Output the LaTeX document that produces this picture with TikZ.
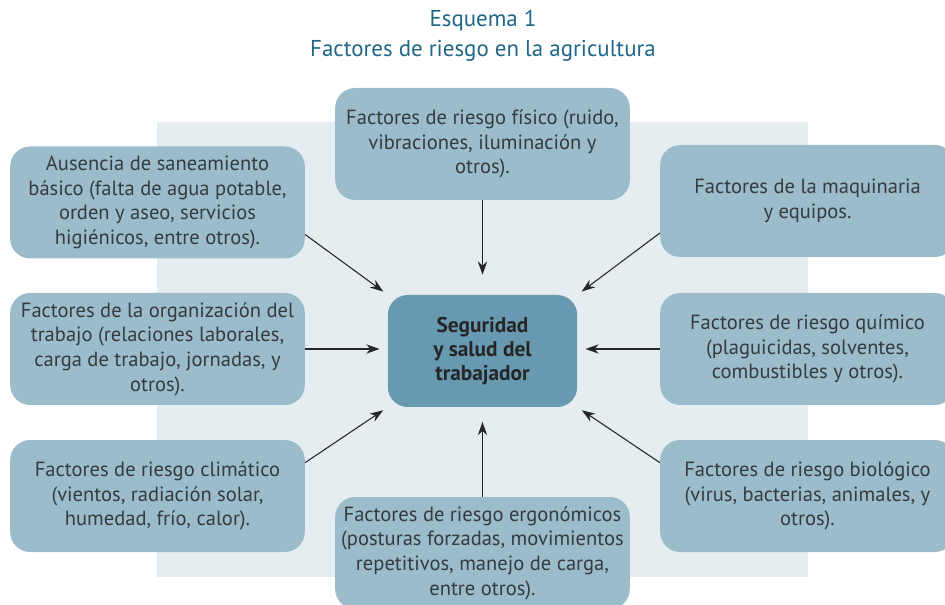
\documentclass[tikz,border=0pt]{standalone}
\usepackage{fontspec}
\setmainfont{PT Sans}
\usetikzlibrary{arrows.meta}
\usetikzlibrary{positioning}
\definecolor{cajaazul}{HTML}{9ABCCB}
\definecolor{centroazul}{HTML}{6799B1}
\definecolor{fondo}{HTML}{E6EDF0}
\definecolor{titulo}{HTML}{1F6688}
\definecolor{texto}{HTML}{363B3D}
\tikzset{caja/.style = {fill=cajaazul, rounded corners=15pt, minimum width=221pt, minimum height=84pt, inner sep=0pt, align=center, text=texto, font=\fontsize{15.4}{18.5}\selectfont}}
\tikzset{nucleo/.style = {fill=centroazul, rounded corners=15pt, minimum width=142pt, minimum height=84pt, inner sep=0pt, align=center, text=black!85, font=\fontsize{16}{18}\selectfont\bfseries}}
\tikzset{flecha/.style = {-{Stealth[length=10pt, width=7pt]}, line width=0.8pt, draw=black!85}}

\begin{document}
\begin{tikzpicture}[x=0.75pt, y=-0.75pt]
    \useasboundingbox (0, 0) rectangle (945, 605);
    \fill [fondo] (157, 122) rectangle (808, 577);

    \node [text=titulo, align=center, font=\fontsize{17.2}{22.5}\selectfont] (titulo) at (483, 36)
      {Esquema 1\\Factores de riesgo en la agricultura};

    \node [nucleo] (centro) at (482.5, 351) {Seguridad\\y salud del\\trabajador};

    \node [caja] (fisico) at (482.5, 144)
      {Factores de riesgo físico (ruido,\\vibraciones, iluminación y\\otros).};
    \node [caja] (saneamiento) at (157.5, 202.5)
      {Ausencia de saneamiento\\básico (falta de agua potable,\\orden y aseo, servicios\\higiénicos, entre otros).};
    \node [caja] (maquinaria) at (807.5, 201)
      {Factores de la maquinaria\\y equipos.};
    \node [caja] (organizacion) at (157.5, 349)
      {Factores de la organización del\\trabajo (relaciones laborales,\\carga de trabajo, jornadas, y\\otros).};
    \node [caja] (quimico) at (807.5, 349)
      {Factores de riesgo químico\\(plaguicidas, solventes,\\combustibles y otros).};
    \node [caja] (climatico) at (157.5, 496)
      {Factores de riesgo climático\\(vientos, radiación solar,\\humedad, frío, calor).};
    \node [caja] (biologico) at (807.5, 496)
      {Factores de riesgo biológico\\(virus, bacterias, animales, y\\otros).};
    \node [caja] (ergonomico) at (482.5, 553)
      {Factores de riesgo ergonómicos\\(posturas forzadas, movimientos\\repetitivos, manejo de carga,\\entre otros).};

    % flechas hacia el centro
    \draw [flecha, shorten >=15pt] (fisico) -- (centro);
    \draw [flecha, shorten >=11pt] (ergonomico) -- (centro);
    \draw [flecha, shorten >=6pt] (organizacion.east) -- (organizacion.east -| centro.west);
    \draw [flecha, shorten >=6pt] (quimico.west) -- (quimico.west -| centro.east);
    \draw [flecha, shorten >=4pt] ([yshift=-24pt]saneamiento.east) -- (centro.north west);
    \draw [flecha, shorten >=4pt] ([yshift=-24pt]maquinaria.west) -- (centro.north east);
    \draw [flecha, shorten >=4pt] ([yshift=25pt]climatico.east) -- (centro.south west);
    \draw [flecha, shorten >=4pt] ([yshift=25pt]biologico.west) -- (centro.south east);
\end{tikzpicture}
\end{document}
